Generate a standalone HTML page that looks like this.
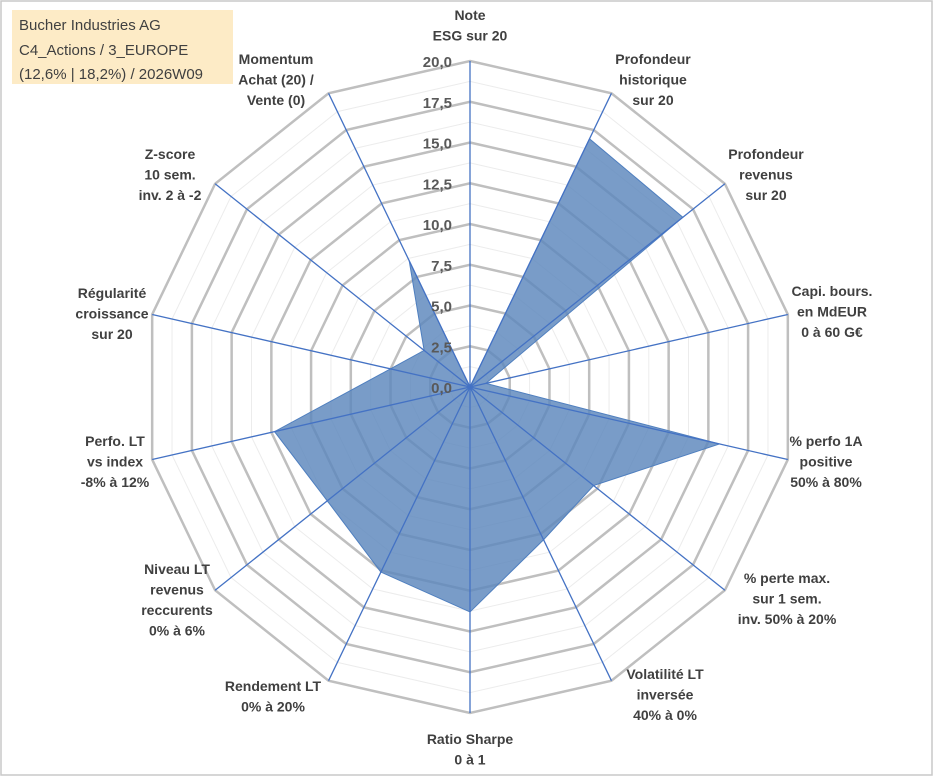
<!DOCTYPE html>
<html><head><meta charset="utf-8"><style>
body{margin:0;background:#fff;}
svg{display:block;font-family:"Liberation Sans",sans-serif;}
.lbl{font-weight:bold;font-size:14px;fill:#404040;text-anchor:middle;}
.tick{font-weight:bold;font-size:15px;fill:#595959;text-anchor:end;}
</style></head><body>
<svg id="chart" width="933" height="776">
<rect x="1" y="1" width="931" height="774" fill="#fff" stroke="#c8c8c8" stroke-width="1.5"/>
<rect x="12" y="10" width="221" height="74" fill="#fdebc6"/>
<text x="19" y="30" font-size="15" fill="#404040">Bucher Industries AG</text>
<text x="19" y="55" font-size="15" fill="#404040">C4_Actions / 3_EUROPE</text>
<text x="19" y="79" font-size="15" fill="#404040">(12,6% | 18,2%) / 2026W09</text>
<g id="grid"></g><g id="series"></g><g id="axes"></g><g id="ticks"></g><g id="labels"></g>
</svg>
<script>
const categories=[["Note","ESG sur 20"],["Profondeur","historique","sur 20"],["Profondeur","revenus","sur 20"],["Capi. bours.","en MdEUR","0 à 60 G€"],["% perfo 1A","positive","50% à 80%"],["% perte max.","sur 1 sem.","inv. 50% à 20%"],["Volatilité LT","inversée","40% à 0%"],["Ratio Sharpe","0 à 1"],["Rendement LT","0% à 20%"],["Niveau LT","revenus","reccurents","0% à 6%"],["Perfo. LT","vs index","-8% à 12%"],["Régularité","croissance","sur 20"],["Z-score","10 sem.","inv. 2 à -2"],["Momentum","Achat (20) /","Vente (0)"]];
const values=[0,16.9,16.7,1.0,15.7,9.7,10.4,13.8,12.6,11.2,12.3,5.0,3.6,8.6];
const tickLabels=["0,0","2,5","5,0","7,5","10,0","12,5","15,0","17,5","20,0"];
const labelPos=[[470,20],[653,64],[766,159],[832,296],[826,446],[787,583],[665,679],[470,744],[273,691],[177,574],[115,446],[112,298],[170,159],[276,64]];
const CX=470,CY=387,R=326,MAX=20;
const NS="http://www.w3.org/2000/svg";
const n=categories.length;
function ang(i){return i*2*Math.PI/n;}
function pt(i,v){const r=v/MAX*R;return [CX+r*Math.sin(ang(i)),CY-r*Math.cos(ang(i))];}
function mk(tag,attrs,parent){const e=document.createElementNS(NS,tag);for(const k in attrs)e.setAttribute(k,attrs[k]);parent.appendChild(e);return e;}
const grid=document.getElementById('grid');
for(let s=1;s<=16;s++){const v=s*1.25;const pts=[];for(let i=0;i<n;i++)pts.push(pt(i,v).join(','));
 const major=s%2===0;
 const p=mk('polygon',{points:pts.join(' '),fill:'none',stroke:major?'#bfbfbf':'#ececec','stroke-width':major?2.5:1},grid);
 
 }
const series=document.getElementById('series');
const poly=mk('polygon',{points:values.map((v,i)=>pt(i,v).join(',')).join(' '),fill:'#5b86bc','fill-opacity':'0.82',stroke:'#4f7fbf','stroke-width':1},series);


const axes=document.getElementById('axes');
for(let i=0;i<n;i++){const [x,y]=pt(i,MAX);
 const l=mk('line',{x1:CX,y1:CY,x2:x,y2:y,stroke:'#4472c4','stroke-width':1.3},axes);
 
 }
const ticks=document.getElementById('ticks');
tickLabels.forEach((t,k)=>{const y=CY-(k*2.5)/MAX*R;
 const e=mk('text',{x:452,y:y+6,class:'tick'},ticks);e.textContent=t;
 
 });
const labels=document.getElementById('labels');
categories.forEach((lines,i)=>{const [x,y]=labelPos[i];
 const e=mk('text',{x:x,y:y,class:'lbl'},labels);
 
 
 lines.forEach((s,j)=>{const ts=mk('tspan',{x:x,y:y+j*20.5},e);ts.textContent=s;});});
</script>
</body></html>
